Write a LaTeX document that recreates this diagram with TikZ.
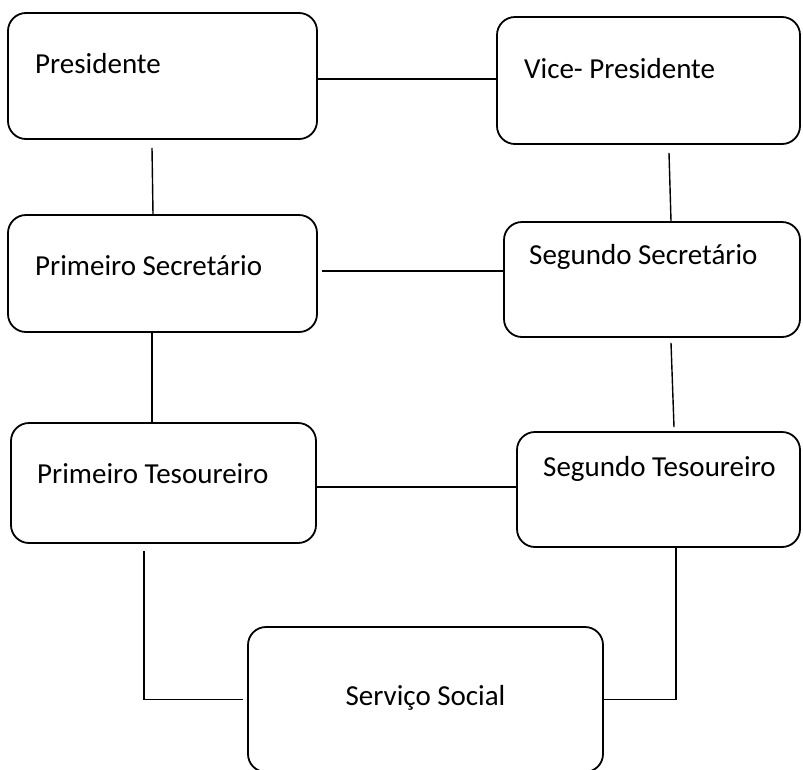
\documentclass[tikz,border=0pt]{standalone}
\usepackage{fontspec}
\setmainfont{Carlito}
\usepackage{tikz}

\begin{document}
\begin{tikzpicture}[x=1pt, y=-1pt, box/.style = {draw, line width=1.8pt, rounded corners=18pt}, lbl/.style = {anchor=base west, inner sep=0pt, font=\fontsize{29}{35}\selectfont}, link/.style = {line width=1.4pt}]
\clip (0,0) rectangle (803,769);
\node[box, minimum width=309pt, minimum height=126pt] (pres) at (162.5,76) {};
\node[box, minimum width=303pt, minimum height=127pt] (vice) at (648.5,80.5) {};
\node[box, minimum width=309pt, minimum height=117pt] (sec1) at (162.5,273.5) {};
\node[box, minimum width=296pt, minimum height=115pt] (sec2) at (652,279.5) {};
\node[box, minimum width=305pt, minimum height=120pt] (tes1) at (163.5,483) {};
\node[box, minimum width=283pt, minimum height=115pt] (tes2) at (658.5,489.5) {};
\node[box, minimum width=355pt, minimum height=145pt] (serv) at (425.5,699.5) {};
\node[lbl] (presT) at (35,73) {Presidente};
\node[lbl] (viceT) at (524,78) {Vice- Presidente};
\node[lbl] (sec1T) at (35,275) {Primeiro Secretário};
\node[lbl] (sec2T) at (529,264) {Segundo Secretário};
\node[lbl] (tes1T) at (37,483) {Primeiro Tesoureiro};
\node[lbl] (tes2T) at (543,476) {Segundo Tesoureiro};
\node[lbl, anchor=base] (servT) at (425.5,705) {Serviço Social};
\draw[link] ([yshift=-3pt]pres.east) -- ([yshift=1.5pt]vice.west);
\draw[link] ([xshift=-10.5pt,yshift=-8pt]pres.south) -- ([xshift=-9.5pt]sec1.north);
\draw[link] ([xshift=20.5pt,yshift=-8pt]vice.south) -- ([xshift=19pt]sec2.north);
\draw[link] ([xshift=4pt,yshift=2.5pt]sec1.east) -- ([yshift=8.5pt]sec2.west);
\draw[link] ([xshift=-10.5pt,yshift=2pt]sec1.south) -- ([xshift=-11.5pt]tes1.north);
\draw[link] ([xshift=19pt,yshift=-5pt]sec2.south) -- ([xshift=15.5pt,yshift=4pt]tes2.north);
\draw[link] ([yshift=-4pt]tes1.east) -- ([yshift=2.5pt]tes2.west);
\draw[link, shorten >=4pt] ([xshift=-19.5pt,yshift=-7pt]tes1.south) |- (serv.west);
\draw[link] ([xshift=17.5pt]tes2.south) |- (serv.east);
\end{tikzpicture}
\end{document}
